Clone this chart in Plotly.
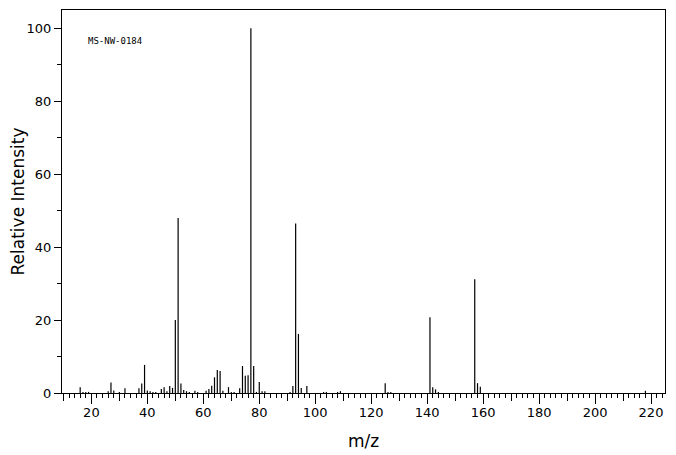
import plotly.graph_objects as go

mz = [16,17,18,19,26,27,28,30,32,37,38,39,40,41,42,43,45,46,47,48,49,50,51,52,53,54,55,57,58,
      61,62,63,64,65,66,67,69,70,71,73,74,75,76,77,78,79,80,81,82,91,92,93,94,95,97,103,104,108,109,
      125,126,127,141,142,143,144,157,158,159,218]
intensity = [1.6,0.3,0.3,0.3,0.5,2.9,0.7,0.3,1.3,1.3,2.6,7.7,0.7,0.5,0.3,0.3,1.1,1.6,0.5,1.9,1.4,20,48,2.6,0.8,0.5,0.3,0.6,0.3,
             0.6,1.1,2.0,4.3,6.3,6.0,0.6,1.6,0.3,0.3,1.3,7.4,4.7,4.9,100,7.4,0.3,3.0,0.5,0.5,0.3,1.9,46.5,16.2,1.4,1.9,0.3,0.3,0.3,0.5,
             2.7,0.3,0.3,20.8,1.6,1.0,0.3,31.2,2.7,1.7,0.6]
label = "MS-NW-0184"

xs, ys = [], []
for m, v in zip(mz, intensity):
    xs += [m, m, None]
    ys += [0, v, None]

fig = go.Figure()
fig.add_trace(go.Scatter(x=xs, y=ys, mode="lines", line=dict(color="black", width=1.2),
                         hoverinfo="skip", showlegend=False))
fig.add_trace(go.Scatter(x=[None], y=[None], xaxis="x2", showlegend=False))

xr = [9.5, 225]
tv = list(range(10, 230, 10))
tt = [str(v) if v % 20 == 0 else "" for v in tv]
fig.update_layout(
    width=676, height=455, margin=dict(l=54, r=19, t=2, b=70),
    paper_bgcolor="white", plot_bgcolor="white",
    font=dict(family="DejaVu Sans", size=13, color="black"),
    xaxis=dict(range=xr, tickvals=tv, ticktext=tt, ticks="outside", ticklen=7, tickwidth=1,
               tickcolor="black", showgrid=False, zeroline=False, showline=True, mirror=True,
               linecolor="black", linewidth=1, automargin=False,
               minor=dict(dtick=2, ticklen=4, tickcolor="black", ticks="outside"),
               title=dict(text="m/z", font=dict(size=17), standoff=16)),
    xaxis2=dict(range=xr, overlaying="x", anchor="y", side="bottom", tickvals=list(range(20, 230, 20)),
                ticks="outside", ticklen=10, tickcolor="black", showticklabels=False, automargin=False,
                showgrid=False, zeroline=False, showline=False),
    yaxis=dict(range=[0, 105], tickvals=[0, 20, 40, 60, 80, 100], ticks="outside", ticklen=7,
               tickcolor="black", showgrid=False, zeroline=False, showline=True, mirror=True,
               linecolor="black", linewidth=1, automargin=False,
               minor=dict(dtick=10, ticklen=4, tickcolor="black", ticks="outside"),
               title=dict(text="Relative Intensity", font=dict(size=17), standoff=6)),
    annotations=[dict(text=label, x=0.04, y=0.919, xref="paper", yref="paper", xanchor="left",
                      yanchor="middle", showarrow=False, font=dict(family="DejaVu Sans Mono", size=9))],
)
fig.write_html("out.html")
